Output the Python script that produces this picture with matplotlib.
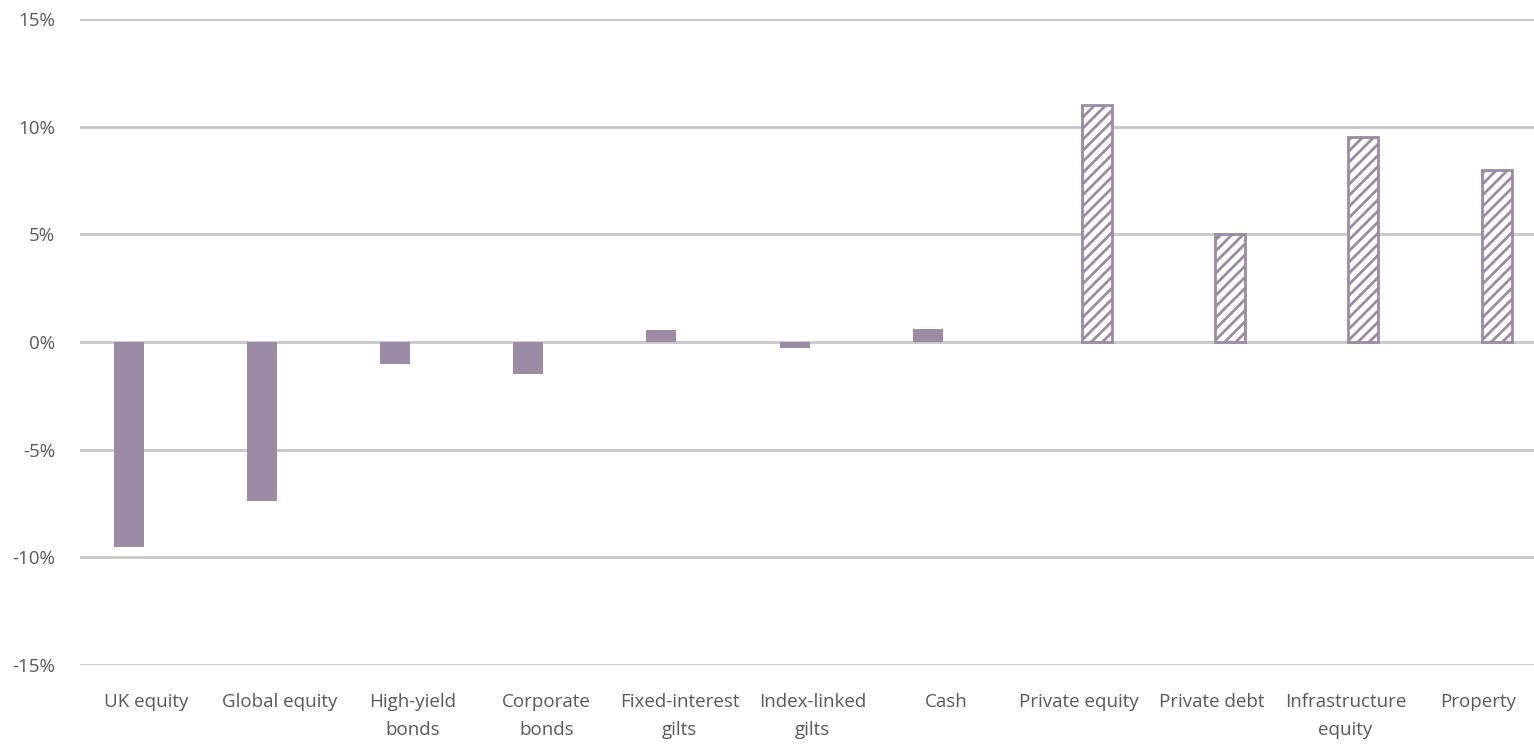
import matplotlib
matplotlib.use("Agg")
import matplotlib.pyplot as plt
import numpy as np

categories = ["UK equity", "Global equity", "High-yield\nbonds", "Corporate\nbonds",
              "Fixed-interest\ngilts", "Index-linked\ngilts", "Cash", "Private equity",
              "Private debt", "Infrastructure\nequity", "Property"]
# listed assets (solid) and private assets (hatched), in %
listed = [-9.5, -7.4, -1.0, -1.5, 0.55, -0.3, 0.6, np.nan, np.nan, np.nan, np.nan]
private = [np.nan, np.nan, np.nan, np.nan, np.nan, np.nan, np.nan, 11.0, 5.0, 9.5, 8.0]
yticks = [-15, -10, -5, 0, 5, 10, 15]

purple = "#9B8BA5"
grey_text = "#595959"

plt.rcParams["font.family"] = ["Open Sans", "DejaVu Sans"]
plt.rcParams["hatch.linewidth"] = 2.0

fig = plt.figure(figsize=(15.34, 7.46), dpi=100)
ax = fig.add_axes([80 / 1534, 81 / 746, 1 - 80 / 1534, (665 - 19) / 746])

x = np.arange(len(categories))
width = 0.225
offset = 0.135

ax.bar(x - offset, listed, width, color=purple, zorder=3)
ax.bar(x + offset, private, width, facecolor="white", edgecolor=purple,
       linewidth=2, hatch="///", zorder=3)

ax.set_xlim(-0.5, 10.416)
ax.set_ylim(-15, 15)
ax.set_yticks(yticks)
ax.set_yticklabels([f"{v}%" for v in yticks])
ax.set_xticks(x)
ax.set_xticklabels(categories, linespacing=1.75)

ax.grid(axis="y", color="#C8C8C8", linewidth=2, zorder=0)
ax.grid(axis="x", visible=False)
for s in ax.spines.values():
    s.set_visible(False)
ax.tick_params(axis="both", length=0, colors=grey_text, labelsize=13.5)
ax.tick_params(axis="y", pad=18)
ax.tick_params(axis="x", pad=20)

fig.savefig("out.png", dpi=100)
